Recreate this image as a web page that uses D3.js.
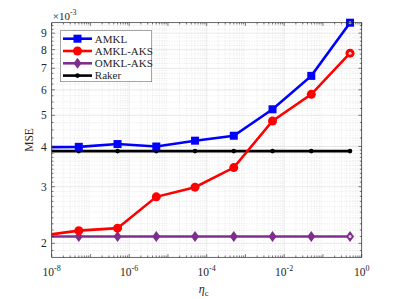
<!DOCTYPE html>
<html>
<head>
<meta charset="utf-8">
<script src="https://cdn.jsdelivr.net/npm/d3@7"></script>
<style>
  body { margin: 0; background: #fff; }
  text { font-family: "Liberation Serif", "Times New Roman", serif; fill: #262626; }
</style>
</head>
<body>
<div id="chart"></div>
<script>
// eta_c values (first one sits just left of the axis and gets clipped)
var etaValues = [5e-9, 5e-8, 5e-7, 5e-6, 5e-5, 5e-4, 5e-3, 5e-2, 5e-1];

var amkl    = [3.98e-3, 3.99e-3, 4.07e-3, 4.00e-3, 4.17e-3, 4.32e-3, 5.22e-3, 6.63e-3, 9.70e-3];
var amklAks = [2.11e-3, 2.19e-3, 2.23e-3, 2.79e-3, 2.99e-3, 3.44e-3, 4.80e-3, 5.81e-3, 7.80e-3];
var omklAks = [2.10e-3, 2.10e-3, 2.10e-3, 2.10e-3, 2.10e-3, 2.10e-3, 2.10e-3, 2.10e-3, 2.10e-3];
var raker   = [3.87e-3, 3.87e-3, 3.87e-3, 3.87e-3, 3.87e-3, 3.87e-3, 3.87e-3, 3.87e-3, 3.87e-3];

var seriesNames = ["AMKL", "AMKL-AKS", "OMKL-AKS", "Raker"];
var xTickExps = [-8, -6, -4, -2, 0];
var yTickLabels = [2, 3, 4, 5, 6, 7, 8, 9];

var svgWidth = 399;
var svgHeight = 299;
var margin = { top: 22.7, right: 37.3, bottom: 41.7, left: 51.7 };
var width = svgWidth - margin.left - margin.right;
var height = svgHeight - margin.top - margin.bottom;

var svg = d3.select("#chart").append("svg")
  .attr("width", svgWidth)
  .attr("height", svgHeight);

var chartGroup = svg.append("g")
  .attr("transform", `translate(${margin.left}, ${margin.top})`);

var xScale = d3.scaleLog().domain([1e-8, 1]).range([0, width]);
var yScale = d3.scaleLog().domain([1.81e-3, 9.70e-3]).range([height, 0]);

// grid: minor dotted, major solid
var xMinor = [];
for (var e = -8; e < 0; e++) {
  for (var m = 2; m <= 9; m++) xMinor.push(m * Math.pow(10, e));
}
var xDecades = d3.range(-8, 1).map(e => Math.pow(10, e));
var yMinor = [];
for (var v = 1.9; v < 9.75; v += (v < 3.95 ? 0.1 : 0.25)) {
  var r = Math.round(v * 100) / 100;
  if (Math.abs(r - Math.round(r)) > 0.01) yMinor.push(r * 1e-3);
}
var yMajor = yTickLabels.map(d => d * 1e-3);

var grid = chartGroup.append("g");
grid.selectAll(".xminor").data(xMinor).enter().append("line")
  .attr("x1", d => xScale(d)).attr("x2", d => xScale(d))
  .attr("y1", 0).attr("y2", height)
  .attr("stroke", "#d9d9d9").attr("stroke-width", 0.6).attr("stroke-dasharray", "1,1.5");
grid.selectAll(".yminor").data(yMinor).enter().append("line")
  .attr("x1", 0).attr("x2", width)
  .attr("y1", d => yScale(d)).attr("y2", d => yScale(d))
  .attr("stroke", "#d9d9d9").attr("stroke-width", 0.6).attr("stroke-dasharray", "1,1.5");
grid.selectAll(".xmajor").data(xTickExps.map(e => Math.pow(10, e))).enter().append("line")
  .attr("x1", d => xScale(d)).attr("x2", d => xScale(d))
  .attr("y1", 0).attr("y2", height)
  .attr("stroke", "#e3e3e3").attr("stroke-width", 0.8);
grid.selectAll(".ymajor").data(yMajor).enter().append("line")
  .attr("x1", 0).attr("x2", width)
  .attr("y1", d => yScale(d)).attr("y2", d => yScale(d))
  .attr("stroke", "#e3e3e3").attr("stroke-width", 0.8);

// clip for the data
svg.append("defs").append("clipPath").attr("id", "plotclip")
  .append("rect").attr("x", 0).attr("y", -6).attr("width", width + 6).attr("height", height + 6);

var plot = chartGroup.append("g").attr("clip-path", "url(#plotclip)");

var lineGen = d3.line()
  .x(d => xScale(d[0]))
  .y(d => yScale(d[1]));

var series = [
  { name: seriesNames[0], values: amkl, color: "#0000ff", marker: "square" },
  { name: seriesNames[1], values: amklAks, color: "#ff0000", marker: "circle" },
  { name: seriesNames[2], values: omklAks, color: "#7e2f8e", marker: "diamond" },
  { name: seriesNames[3], values: raker, color: "#000000", marker: "star" }
];

function drawMarker(g, type, color, x, y, last) {
  if (type === "square") {
    g.append("rect").attr("x", x - 4).attr("y", y - 4).attr("width", 8).attr("height", 8).attr("fill", color);
  } else if (type === "circle") {
    g.append("circle").attr("cx", x).attr("cy", y).attr("r", 4.5).attr("fill", color);
  } else if (type === "diamond") {
    g.append("path").attr("d", `M${x},${y - 5.5}L${x + 4},${y}L${x},${y + 5.5}L${x - 4},${y}Z`).attr("fill", color);
  } else {
    g.append("circle").attr("cx", x).attr("cy", y).attr("r", 2.3).attr("fill", color);
  }
  if (last && type !== "star") {
    g.append("circle").attr("cx", x).attr("cy", y).attr("r", 1.5).attr("fill", "#fff").attr("opacity", 0.8);
  }
}

// draw in reverse so AMKL sits on top
series.slice().reverse().forEach(function(s) {
  var pts = etaValues.map((x, i) => [x, s.values[i]]);
  plot.append("path")
    .datum(pts)
    .attr("fill", "none")
    .attr("stroke", s.color)
    .attr("stroke-width", 2.6)
    .attr("d", lineGen);
  var mg = plot.append("g");
  pts.forEach(function(p, i) {
    if (i === 0) return;
    drawMarker(mg, s.marker, s.color, xScale(p[0]), yScale(p[1]), i === pts.length - 1);
  });
});

// axes box and ticks
var axisColor = "#262626";
var ticks = chartGroup.append("g").attr("stroke", axisColor).attr("stroke-width", 0.6);
xDecades.forEach(function(d) {
  var x = xScale(d);
  ticks.append("line").attr("x1", x).attr("x2", x).attr("y1", height).attr("y2", height - 3.2);
  ticks.append("line").attr("x1", x).attr("x2", x).attr("y1", 0).attr("y2", 3.2);
});
xMinor.forEach(function(d) {
  var x = xScale(d);
  ticks.append("line").attr("x1", x).attr("x2", x).attr("y1", height).attr("y2", height - 1.8);
  ticks.append("line").attr("x1", x).attr("x2", x).attr("y1", 0).attr("y2", 1.8);
});
yMajor.forEach(function(d) {
  var y = yScale(d);
  ticks.append("line").attr("x1", 0).attr("x2", 3.2).attr("y1", y).attr("y2", y);
  ticks.append("line").attr("x1", width).attr("x2", width - 3.2).attr("y1", y).attr("y2", y);
});
yMinor.forEach(function(d) {
  var y = yScale(d);
  ticks.append("line").attr("x1", 0).attr("x2", 1.8).attr("y1", y).attr("y2", y);
  ticks.append("line").attr("x1", width).attr("x2", width - 1.8).attr("y1", y).attr("y2", y);
});
chartGroup.append("rect")
  .attr("width", width).attr("height", height)
  .attr("fill", "none").attr("stroke", axisColor).attr("stroke-width", 0.7);

// tick labels
var xLabels = chartGroup.selectAll(".xlab").data(xTickExps).enter().append("text")
  .attr("x", d => xScale(Math.pow(10, d)))
  .attr("y", height + 19)
  .attr("text-anchor", "middle")
  .attr("font-size", "11.5px");
xLabels.append("tspan").text("10");
xLabels.append("tspan").attr("dy", -5).attr("font-size", "8px").text(d => d);

chartGroup.selectAll(".ylab").data(yTickLabels).enter().append("text")
  .attr("x", -5)
  .attr("y", d => yScale(d * 1e-3))
  .attr("dy", "0.35em")
  .attr("text-anchor", "end")
  .attr("font-size", "11.5px")
  .text(d => d);

// exponent note
var expText = chartGroup.append("text")
  .attr("x", 1).attr("y", -3)
  .attr("font-size", "11px");
expText.append("tspan").text("\u00d710");
expText.append("tspan").attr("dy", -5).attr("font-size", "8px").text("-3");

// axis titles
chartGroup.append("text")
  .attr("transform", `translate(${-19}, ${height / 2}) rotate(-90)`)
  .attr("text-anchor", "middle")
  .attr("font-size", "11.5px")
  .text("MSE");

var xTitle = chartGroup.append("text")
  .attr("x", width / 2 - 3)
  .attr("y", height + 36)
  .attr("text-anchor", "middle")
  .attr("font-size", "12px")
  .attr("font-style", "italic");
xTitle.append("tspan").text("\u03b7");
xTitle.append("tspan").attr("dy", 3).attr("font-size", "8.5px").attr("font-style", "normal").text("c");

// legend
var legend = chartGroup.append("g").attr("transform", "translate(8.6, 8)");
legend.append("rect")
  .attr("width", 91.4).attr("height", 51)
  .attr("fill", "#fff").attr("stroke", "#6b6b6b").attr("stroke-width", 0.6);
series.forEach(function(s, i) {
  var ly = 8 + i * 12.3;
  legend.append("line")
    .attr("x1", 2.7).attr("x2", 31.7).attr("y1", ly).attr("y2", ly)
    .attr("stroke", s.color).attr("stroke-width", 2.6);
  drawMarker(legend, s.marker, s.color, 17.2, ly, false);
  legend.append("text")
    .attr("x", 34.5).attr("y", ly)
    .attr("dy", "0.35em")
    .attr("font-size", "11px")
    .text(s.name);
});
</script>
</body>
</html>
